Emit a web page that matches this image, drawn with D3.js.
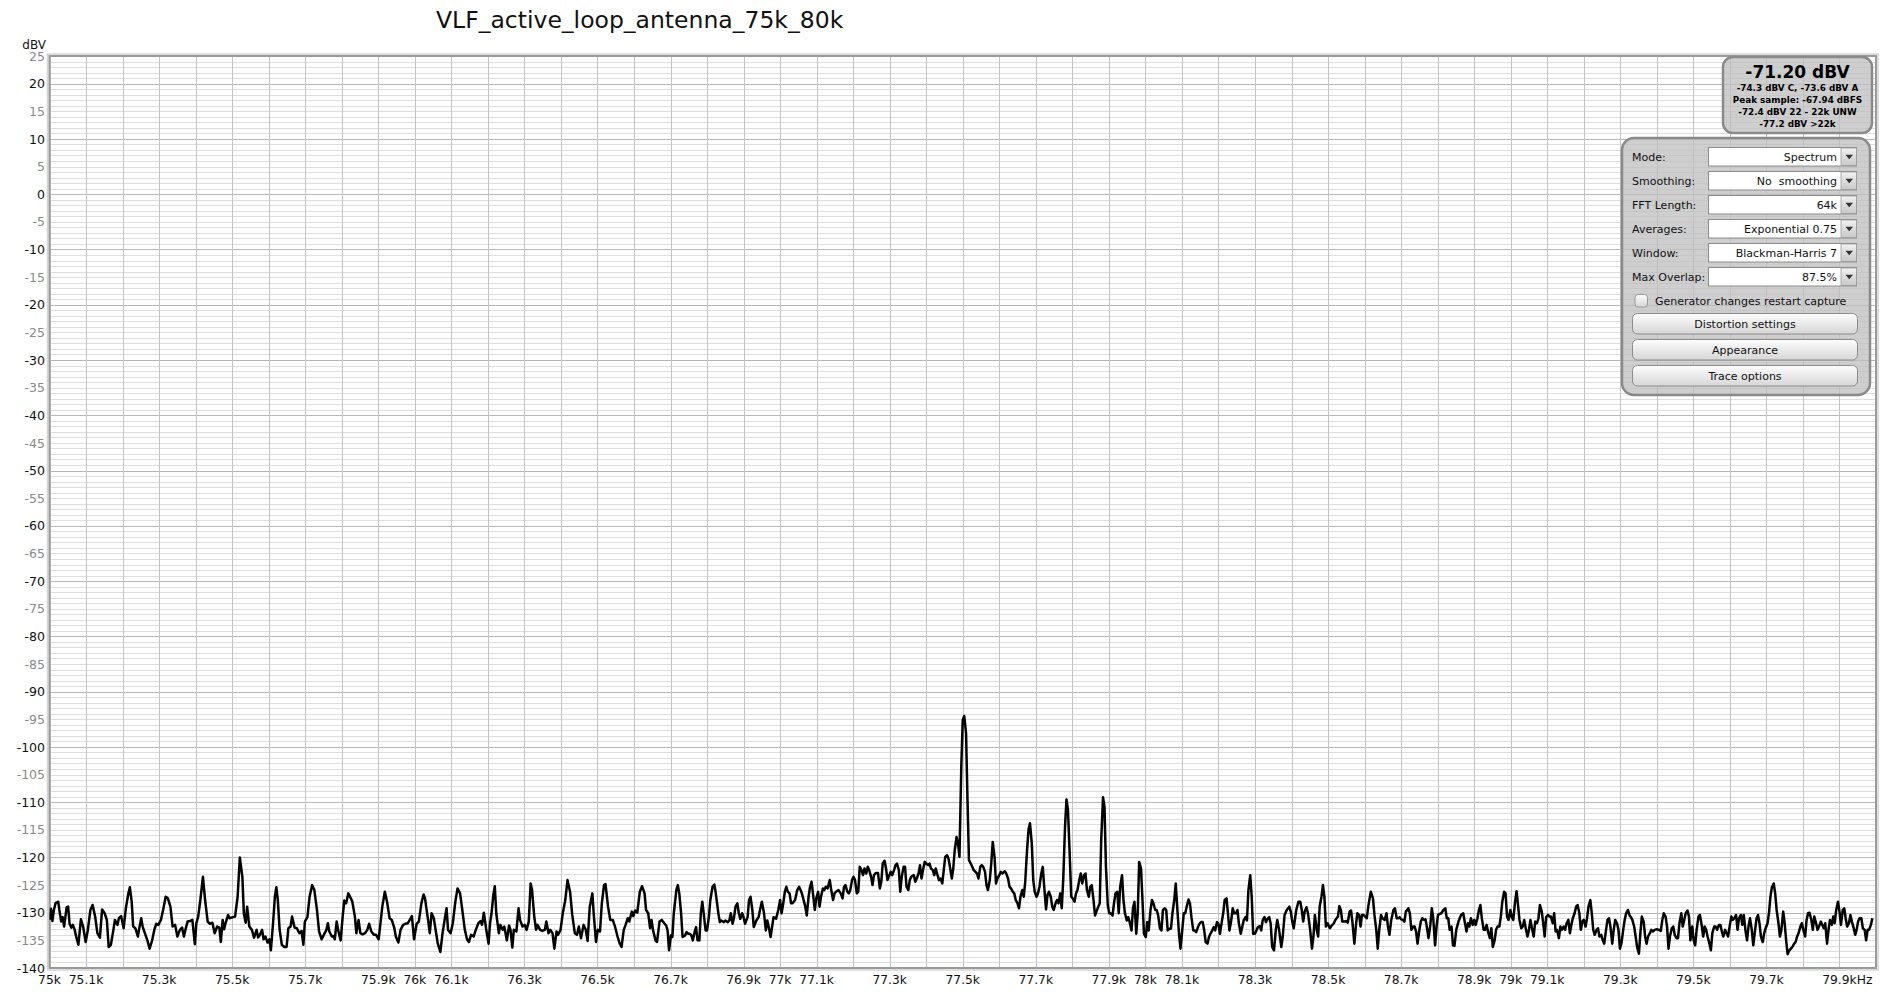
<!DOCTYPE html>
<html><head><meta charset="utf-8">
<script src="https://cdn.jsdelivr.net/npm/d3@7"></script>
<style>
html,body{margin:0;padding:0;background:#fff;overflow:hidden;}
svg{display:block;font-family:"DejaVu Sans",sans-serif;}
</style></head><body>
<svg id="chart" width="1900" height="992"></svg>
<script>
// ---------------- data ----------------
const chartTitle = "VLF_active_loop_antenna_75k_80k";
const yUnit = "dBV";
const yTicks = [25,20,15,10,5,0,-5,-10,-15,-20,-25,-30,-35,-40,-45,-50,-55,-60,-65,-70,-75,-80,-85,-90,-95,-100,-105,-110,-115,-120,-125,-130,-135,-140];
const xTickHz = [75000,75100,75300,75500,75700,75900,76000,76100,76300,76500,76700,76900,77000,77100,77300,77500,77700,77900,78000,78100,78300,78500,78700,78900,79000,79100,79300,79500,79700,79900];
const xTickLabels = ["75k","75.1k","75.3k","75.5k","75.7k","75.9k","76k","76.1k","76.3k","76.5k","76.7k","76.9k","77k","77.1k","77.3k","77.5k","77.7k","77.9k","78k","78.1k","78.3k","78.5k","78.7k","78.9k","79k","79.1k","79.3k","79.5k","79.7k","79.9k"];
const xUnit = "Hz";
const readoutMain = "-71.20 dBV";
const readoutLines = ["-74.3 dBV C, -73.6 dBV A","Peak sample: -67.94 dBFS","-72.4 dBV 22 - 22k UNW","-77.2 dBV >22k"];
const settingLabels = ["Mode:","Smoothing:","FFT Length:","Averages:","Window:","Max Overlap:"];
const settingValues = ["Spectrum","No  smoothing","64k","Exponential 0.75","Blackman-Harris 7","87.5%"];
const checkboxLabel = "Generator changes restart capture";
const buttonLabels = ["Distortion settings","Appearance","Trace options"];

// spectrum trace: [frequency Hz, level dBV]
const spectrum = [
[75000,-131.3],[75004,-129.3],[75008,-131.5],[75012,-129.5],[75017,-128.2],[75024,-128.0],[75027,-129.5],[75032,-131.6],[75036,-130.8],[75040,-132.5],
[75047,-129.0],[75051,-128.9],[75055,-132.0],[75060,-132.7],[75064,-132.2],[75069,-133.1],[75073,-134.3],[75079,-135.8],[75086,-131.2],[75092,-132.5],
[75099,-135.3],[75105,-133.1],[75112,-129.5],[75118,-128.6],[75125,-130.7],[75131,-133.7],[75138,-134.5],[75144,-129.4],[75151,-130.1],[75157,-131.3],
[75162,-136.2],[75168,-135.8],[75175,-133.1],[75179,-131.3],[75186,-132.2],[75190,-131.0],[75196,-130.6],[75203,-132.8],[75209,-129.2],[75216,-126.5],
[75220,-125.4],[75225,-128.0],[75229,-132.5],[75235,-132.8],[75242,-134.3],[75246,-132.7],[75251,-131.0],[75255,-132.5],[75261,-133.7],[75268,-135.0],
[75274,-136.5],[75281,-135.0],[75287,-133.1],[75292,-132.0],[75298,-132.2],[75305,-131.3],[75311,-129.5],[75318,-127.1],[75324,-127.4],[75331,-128.9],
[75337,-132.5],[75344,-132.2],[75350,-134.3],[75357,-133.1],[75363,-132.7],[75368,-134.3],[75372,-133.1],[75378,-131.6],[75385,-131.5],[75391,-131.3],
[75398,-135.7],[75402,-131.9],[75407,-130.7],[75413,-127.7],[75420,-123.5],[75426,-127.7],[75433,-131.6],[75439,-132.0],[75446,-131.8],[75452,-133.7],
[75459,-132.5],[75465,-132.7],[75469,-135.3],[75474,-131.3],[75478,-133.0],[75482,-131.9],[75489,-130.4],[75493,-131.0],[75502,-130.8],[75508,-130.7],
[75515,-127.1],[75521,-120.0],[75528,-123.5],[75532,-130.1],[75537,-131.8],[75541,-128.9],[75547,-132.5],[75554,-133.1],[75560,-134.5],[75567,-133.1],
[75571,-134.5],[75576,-134.0],[75582,-133.1],[75586,-134.8],[75591,-134.3],[75597,-135.4],[75602,-134.8],[75606,-136.8],[75612,-131.9],[75617,-127.1],
[75621,-125.4],[75625,-127.7],[75630,-133.1],[75636,-135.8],[75643,-136.2],[75649,-136.2],[75654,-132.8],[75660,-132.5],[75664,-130.7],[75671,-132.7],
[75677,-132.8],[75684,-133.7],[75690,-133.3],[75695,-135.8],[75699,-131.6],[75706,-130.8],[75712,-127.1],[75719,-125.0],[75725,-125.9],[75732,-129.4],
[75738,-133.4],[75745,-134.8],[75751,-134.0],[75758,-133.1],[75762,-131.9],[75766,-133.4],[75773,-134.3],[75777,-134.2],[75781,-134.8],[75786,-131.6],
[75790,-133.1],[75797,-135.0],[75803,-130.4],[75807,-127.8],[75812,-128.3],[75818,-126.5],[75825,-127.4],[75829,-128.0],[75836,-130.7],[75840,-133.7],
[75846,-131.3],[75851,-133.7],[75857,-133.9],[75864,-133.7],[75870,-133.1],[75875,-132.0],[75881,-133.4],[75888,-134.0],[75894,-134.0],[75901,-134.8],
[75905,-132.5],[75911,-128.9],[75918,-126.2],[75924,-128.0],[75931,-131.0],[75937,-131.3],[75944,-132.8],[75948,-134.3],[75955,-135.4],[75961,-133.1],
[75968,-132.2],[75974,-132.0],[75981,-131.9],[75987,-131.2],[75992,-130.6],[75998,-134.8],[76005,-132.0],[76011,-131.6],[76018,-128.3],[76024,-126.7],
[76028,-127.4],[76033,-129.8],[76037,-131.6],[76041,-133.7],[76046,-130.1],[76052,-131.0],[76057,-133.1],[76063,-135.6],[76070,-137.1],[76076,-133.7],
[76083,-130.7],[76087,-129.2],[76091,-133.1],[76098,-133.7],[76104,-131.9],[76111,-128.0],[76117,-125.6],[76124,-126.5],[76130,-129.5],[76137,-133.1],
[76143,-134.8],[76148,-135.3],[76154,-134.0],[76161,-134.3],[76167,-133.1],[76174,-131.9],[76180,-131.5],[76184,-132.2],[76189,-130.0],[76195,-132.8],
[76202,-135.6],[76206,-131.9],[76210,-130.1],[76215,-126.8],[76219,-125.2],[76223,-130.1],[76230,-133.7],[76234,-132.2],[76241,-133.1],[76245,-132.5],
[76252,-135.0],[76258,-132.3],[76262,-133.1],[76267,-136.3],[76271,-133.1],[76278,-133.4],[76284,-129.2],[76288,-131.3],[76295,-132.5],[76301,-132.2],
[76306,-133.1],[76312,-131.6],[76317,-124.7],[76321,-125.9],[76327,-130.7],[76332,-133.1],[76336,-132.2],[76343,-133.1],[76349,-133.3],[76356,-133.1],
[76360,-131.6],[76366,-133.7],[76371,-133.1],[76377,-133.7],[76382,-136.5],[76388,-133.4],[76392,-134.0],[76399,-133.1],[76405,-130.1],[76412,-127.7],
[76418,-124.1],[76425,-126.2],[76431,-130.4],[76438,-133.7],[76444,-134.0],[76449,-132.5],[76455,-134.6],[76462,-132.2],[76468,-133.1],[76473,-135.1],
[76479,-128.9],[76486,-126.5],[76490,-130.4],[76496,-135.3],[76501,-133.1],[76507,-133.4],[76512,-128.3],[76518,-125.0],[76522,-124.8],[76529,-128.9],
[76535,-131.3],[76542,-131.3],[76548,-132.5],[76555,-134.3],[76561,-135.6],[76566,-136.2],[76572,-133.1],[76577,-132.2],[76583,-131.0],[76587,-131.6],
[76594,-129.8],[76598,-130.6],[76603,-129.6],[76609,-130.0],[76616,-126.2],[76622,-125.2],[76629,-126.5],[76633,-129.5],[76639,-130.1],[76644,-132.8],
[76648,-131.3],[76652,-133.1],[76659,-135.0],[76663,-135.3],[76670,-131.6],[76676,-131.3],[76683,-131.9],
[76688,-132.3],[76692,-133.2],[76696,-136.8],[76701,-134.1],[76705,-134.4],[76709,-130.1],[76716,-125.9],[76720,-125.0],[76724,-126.5],[76729,-130.1],
[76733,-134.4],[76740,-134.1],[76744,-133.5],[76748,-133.8],[76753,-133.8],[76757,-134.1],[76761,-135.0],[76766,-133.5],[76770,-132.6],[76774,-135.0],
[76779,-135.0],[76783,-130.1],[76787,-128.0],[76792,-130.8],[76796,-133.2],[76800,-133.2],[76805,-130.8],[76809,-127.7],[76815,-125.3],[76820,-124.9],
[76824,-126.5],[76831,-130.1],[76835,-131.7],[76839,-131.4],[76846,-131.7],[76850,-131.4],[76857,-131.7],[76861,-131.4],[76865,-130.1],[76870,-132.0],
[76874,-130.8],[76878,-128.9],[76883,-128.3],[76887,-130.1],[76891,-131.1],[76896,-130.1],[76900,-130.8],[76904,-132.0],[76911,-130.8],[76915,-127.7],
[76919,-127.1],[76924,-129.5],[76928,-132.6],[76935,-131.4],[76941,-130.8],[76945,-129.5],[76950,-128.0],[76956,-130.1],[76961,-133.2],[76965,-131.4],
[76969,-132.6],[76974,-134.4],[76978,-132.6],[76982,-130.8],[76989,-131.1],[76995,-129.5],[77000,-127.7],[77004,-130.1],[77008,-128.6],[77013,-126.2],
[77017,-125.3],[77021,-126.2],[77026,-126.5],[77030,-128.3],[77034,-128.3],[77041,-127.7],[77047,-125.9],[77052,-125.3],[77058,-126.2],[77062,-127.1],
[77069,-128.9],[77073,-130.5],[77078,-127.1],[77082,-125.3],[77086,-124.4],[77091,-127.1],[77095,-129.5],[77099,-127.4],[77104,-126.2],[77108,-128.9],
[77112,-127.1],[77117,-125.6],[77121,-125.9],[77125,-125.3],[77130,-125.6],[77136,-124.1],[77140,-125.9],[77145,-127.7],[77149,-126.5],[77153,-126.2],
[77160,-125.9],[77166,-126.5],[77171,-127.4],[77175,-125.3],[77179,-125.0],[77184,-126.2],[77188,-126.5],[77192,-125.9],[77197,-124.1],[77201,-123.5],
[77205,-124.1],[77210,-126.5],[77214,-126.2],[77218,-121.7],[77223,-122.3],[77227,-123.2],[77231,-122.0],[77236,-122.9],[77240,-121.7],[77244,-122.3],
[77249,-123.5],[77253,-125.0],[77257,-123.2],[77262,-122.8],[77268,-122.8],[77273,-125.6],[77277,-124.4],[77281,-121.1],[77286,-120.6],[77290,-122.0],
[77294,-124.1],[77299,-123.2],[77303,-122.6],[77307,-123.2],[77312,-122.3],[77316,-121.4],[77320,-121.1],[77325,-122.3],[77329,-126.2],[77333,-123.5],
[77338,-121.7],[77342,-121.7],[77346,-125.3],[77351,-125.9],[77355,-124.1],[77359,-123.5],[77366,-123.2],[77370,-124.4],[77374,-123.8],[77379,-122.9],
[77383,-121.4],[77387,-123.8],[77392,-122.0],[77396,-120.8],[77400,-121.1],[77405,-121.4],[77409,-121.1],[77413,-122.0],[77418,-122.3],[77422,-123.2],
[77426,-122.0],[77431,-123.2],[77435,-124.1],[77439,-123.8],[77444,-124.7],[77448,-122.3],[77452,-119.9],[77457,-119.6],[77461,-120.2],[77465,-121.7],
[77470,-123.8],[77474,-122.0],[77478,-118.7],[77483,-116.3],[77487,-117.5],[77491,-119.9],[77496,-103.6],[77500,-95.1],[77504,-94.4],[77509,-97.5],
[77513,-109.6],[77517,-120.5],[77522,-121.1],[77526,-121.7],[77530,-122.3],[77535,-122.6],[77539,-122.9],[77543,-123.8],[77548,-121.7],[77552,-121.4],
[77556,-121.7],[77561,-122.6],[77565,-125.0],[77569,-125.9],[77574,-124.1],[77578,-121.1],[77582,-117.2],[77587,-119.9],[77591,-124.7],[77595,-123.8],
[77600,-123.2],[77604,-122.6],[77608,-122.9],[77615,-122.5],[77619,-122.9],[77624,-123.8],[77628,-125.3],[77632,-125.6],[77637,-126.2],[77641,-126.5],
[77645,-127.7],[77650,-128.3],[77654,-129.2],[77658,-127.1],[77663,-125.9],[77667,-127.1],[77671,-124.4],[77676,-118.7],[77680,-115.0],[77684,-113.8],
[77689,-117.5],[77693,-124.1],[77697,-126.2],[77702,-127.1],[77706,-126.5],[77710,-125.3],[77715,-122.9],[77719,-121.7],[77723,-125.3],[77728,-129.4],
[77732,-126.8],[77736,-126.2],[77741,-127.1],[77745,-128.9],[77749,-129.5],[77754,-128.3],[77758,-127.7],[77762,-128.3],[77767,-126.5],[77771,-129.2],
[77775,-124.1],[77780,-114.4],[77784,-109.5],[77788,-111.4],[77793,-119.9],[77797,-127.1],[77801,-127.4],[77806,-128.0],[77810,-126.5],[77814,-125.9],
[77819,-124.1],[77823,-122.9],[77827,-124.7],[77832,-123.2],[77836,-122.9],[77840,-125.9],[77845,-127.1],[77849,-125.3],[77853,-125.0],[77858,-127.7],
[77862,-130.5],[77866,-129.8],[77871,-128.9],[77875,-128.3],[77879,-116.9],[77884,-109.1],[77888,-110.8],[77892,-121.7],[77897,-128.6],[77901,-130.1],
[77905,-130.1],[77910,-130.5],[77914,-128.3],[77918,-126.5],[77923,-126.2],[77927,-130.1],[77931,-125.3],[77936,-123.2],[77940,-127.7],[77944,-130.1],
[77949,-131.4],[77953,-130.8],[77957,-131.7],[77962,-133.2],[77966,-129.2],[77970,-128.0],[77975,-133.8],[77979,-130.1],[77983,-120.8],[77988,-122.0],
[77992,-127.7],[77996,-133.8],[78001,-134.4],[78005,-131.7],[78009,-133.2],[78014,-129.5],[78018,-127.7],[78022,-128.3],[78027,-129.5],[78031,-129.5],
[78035,-130.5],[78040,-132.9],[78044,-133.2],[78048,-129.5],[78053,-129.2],[78057,-129.5],[78061,-133.2],[78066,-132.9],[78070,-132.9],[78074,-130.1],
[78079,-127.7],[78083,-124.7],[78087,-128.9],[78092,-133.8],[78096,-136.5],[78100,-133.8],[78105,-130.1],[78109,-130.1],[78113,-128.9],[78118,-127.6],
[78122,-128.3],[78126,-130.8],[78131,-133.2],[78135,-133.2],[78139,-133.5],[78144,-132.6],[78148,-132.0],[78152,-131.7],[78157,-131.7],[78161,-133.2],
[78165,-135.3],[78170,-135.6],[78174,-134.4],[78178,-133.8],[78183,-133.2],[78187,-132.6],[78191,-133.2],[78196,-131.7],[78200,-132.0],[78204,-133.8],
[78209,-131.7],[78213,-130.1],[78217,-127.7],[78222,-127.4],[78226,-130.1],[78230,-133.2],[78235,-131.4],[78239,-129.2],[78243,-130.1],[78248,-130.1],
[78252,-129.5],[78256,-132.0],[78261,-133.8],[78265,-132.6],[78269,-131.4],[78274,-130.8],[78278,-131.4],[78282,-125.9],[78287,-123.2],[78291,-127.1],
[78295,-133.8],[78300,-133.8],[78304,-133.2],[78308,-132.6],[78313,-132.4],[78317,-133.2],[78321,-131.4],[78326,-130.8],[78330,-131.7],[78334,-131.1],
[78339,-130.8],[78343,-132.0],[78347,-136.2],[78352,-136.8],
[78357,-133.1],[78361,-131.3],[78366,-133.1],[78372,-136.2],[78376,-134.3],[78381,-130.4],[78387,-129.5],[78394,-128.9],[78398,-129.8],[78402,-131.6],
[78406,-132.8],[78413,-129.5],[78419,-128.0],[78424,-128.0],[78428,-129.5],[78432,-131.6],[78436,-129.8],[78441,-129.0],[78445,-130.1],[78451,-133.1],
[78456,-136.5],[78460,-134.3],[78464,-130.4],[78469,-133.1],[78473,-134.3],[78477,-128.9],[78482,-127.1],[78486,-125.0],[78490,-127.1],[78494,-132.5],
[78499,-131.9],[78505,-132.8],[78509,-132.4],[78516,-131.9],[78520,-131.3],[78527,-130.7],[78531,-128.8],[78535,-129.5],[78539,-131.6],[78546,-131.6],
[78550,-131.5],[78554,-131.8],[78559,-129.8],[78563,-129.6],[78567,-131.9],[78572,-135.6],[78576,-132.5],[78580,-130.1],[78585,-130.4],[78589,-132.5],
[78593,-130.4],[78597,-130.4],[78602,-130.7],[78606,-131.0],[78610,-128.9],[78617,-126.2],[78623,-127.4],[78627,-130.4],[78632,-133.1],[78636,-136.5],
[78640,-133.1],[78645,-130.4],[78649,-131.0],[78655,-131.3],[78660,-130.1],[78664,-132.5],[78668,-134.0],[78673,-131.3],[78679,-129.5],[78683,-129.2],
[78688,-131.0],[78692,-131.0],[78696,-130.8],[78700,-131.2],[78705,-131.3],[78709,-131.6],[78713,-129.8],[78720,-129.2],[78724,-130.1],[78728,-133.1],
[78733,-132.5],[78737,-132.5],[78741,-133.4],[78745,-135.6],[78750,-133.1],[78754,-131.6],[78758,-131.0],[78763,-131.3],[78767,-131.2],[78771,-132.8],
[78775,-134.6],[78780,-132.2],[78784,-129.2],[78788,-131.0],[78793,-135.9],[78797,-132.5],[78801,-130.4],[78806,-130.2],[78810,-130.1],[78816,-129.5],
[78821,-129.2],[78825,-131.0],[78829,-131.0],[78833,-133.1],[78838,-132.5],[78842,-135.9],[78846,-136.0],[78851,-133.1],[78857,-131.6],[78864,-130.4],
[78870,-130.1],[78874,-131.6],[78879,-133.4],[78883,-131.9],[78887,-132.5],[78891,-131.0],[78896,-132.2],[78900,-131.3],[78904,-132.2],[78909,-131.0],
[78913,-129.5],[78917,-128.6],[78921,-131.0],[78926,-133.1],[78930,-133.1],[78934,-132.2],[78939,-133.7],[78943,-134.6],[78947,-132.8],[78951,-136.2],
[78956,-135.0],[78960,-133.1],[78964,-132.5],[78969,-132.5],[78973,-130.7],[78977,-128.0],[78982,-126.2],[78986,-126.5],[78990,-130.7],[78994,-131.3],
[78999,-129.5],[79003,-130.8],[79007,-131.3],[79012,-128.0],[79016,-126.1],[79020,-128.6],[79024,-131.3],[79029,-132.8],[79033,-132.5],[79037,-131.3],
[79042,-133.1],[79046,-134.3],[79050,-133.1],[79054,-131.3],[79059,-133.1],[79063,-134.3],[79067,-131.6],[79072,-131.9],[79076,-131.0],[79080,-128.6],
[79085,-129.8],[79089,-131.9],[79093,-134.3],[79097,-130.8],[79102,-130.4],[79106,-130.7],[79110,-130.7],[79115,-131.9],[79119,-130.1],[79123,-133.4],
[79127,-133.1],[79132,-134.6],[79136,-132.5],[79140,-133.1],[79145,-132.5],[79149,-133.1],[79153,-131.9],[79158,-131.3],[79162,-133.7],[79166,-132.2],
[79170,-131.0],[79175,-130.1],[79179,-128.9],[79183,-128.6],[79188,-130.1],[79192,-133.1],[79196,-131.6],[79200,-131.3],[79205,-132.5],[79209,-131.0],
[79213,-128.9],[79218,-127.7],[79222,-130.1],[79226,-133.1],[79230,-134.0],[79235,-133.1],[79239,-132.8],[79243,-134.3],[79248,-134.0],[79252,-135.0],
[79256,-135.6],[79261,-133.1],[79265,-131.3],[79269,-131.0],[79273,-132.5],[79278,-135.6],[79282,-133.1],[79286,-131.3],[79291,-131.9],[79295,-133.1],
[79299,-136.5],[79303,-135.6],[79308,-133.1],[79312,-131.3],[79316,-130.1],[79321,-129.5],[79325,-130.4],[79329,-130.8],[79333,-131.3],[79338,-132.5],
[79342,-134.3],[79346,-136.2],[79351,-137.4],[79355,-133.7],[79359,-130.7],[79364,-131.6],[79368,-134.3],[79372,-135.6],[79376,-134.3],[79381,-133.7],
[79385,-133.1],[79389,-133.4],[79394,-133.1],[79400,-133.0],[79406,-133.1],[79411,-133.3],[79415,-131.3],[79419,-130.1],[79424,-130.7],[79428,-132.5],
[79432,-136.5],[79436,-134.3],[79441,-132.8],[79445,-132.5],[79449,-134.0],[79454,-134.6],[79458,-134.6],[79462,-131.9],[79467,-130.1],[79471,-132.5],
[79475,-131.3],[79479,-130.1],[79484,-129.6],[79488,-130.7],[79492,-135.0],[79497,-132.5],[79501,-135.0],[79505,-135.9],[79509,-133.1],[79514,-130.7],
[79518,-130.4],[79522,-131.9],[79527,-134.3],[79531,-132.5],[79535,-133.1],[79539,-134.3],[79544,-135.6],[79548,-136.8],[79552,-133.7],[79557,-132.5],
[79561,-132.5],[79565,-133.1],[79570,-132.2],[79574,-132.2],[79578,-133.4],[79582,-134.3],[79587,-133.1],[79591,-133.7],[79595,-134.3],[79600,-132.2],
[79604,-130.7],[79608,-131.3],[79612,-131.0],[79617,-130.4],[79621,-133.1],[79625,-131.0],[79630,-130.4],[79634,-132.2],[79638,-130.4],[79643,-133.4],
[79647,-135.0],[79651,-132.5],[79655,-131.0],[79660,-133.1],[79664,-135.9],[79668,-133.7],[79673,-131.0],[79677,-130.4],[79681,-131.9],[79685,-134.3],
[79690,-135.3],[79694,-133.7],[79698,-132.8],[79703,-131.9],[79707,-130.1],[79711,-127.1],[79715,-125.4],[79720,-124.7],[79724,-126.5],[79728,-129.5],
[79733,-131.9],[79737,-134.3],[79741,-133.1],[79746,-129.8],[79750,-131.9],[79754,-135.0],[79758,-137.5],[79763,-136.8],[79767,-136.5],[79771,-136.2],
[79776,-135.6],[79780,-135.3],[79784,-134.3],[79788,-133.7],[79793,-132.5],[79797,-131.9],[79801,-133.1],[79806,-134.3],[79810,-131.3],[79814,-130.1],
[79818,-130.0],[79823,-131.3],[79827,-133.1],[79831,-130.7],[79836,-131.9],[79840,-133.1],[79844,-132.5],[79849,-131.6],[79853,-132.2],[79857,-132.8],
[79861,-131.9],[79866,-135.6],[79870,-133.1],[79874,-131.3],[79879,-132.2],[79883,-130.7],[79887,-131.9],[79891,-129.5],[79896,-128.0],[79900,-129.8],
[79904,-132.2],[79909,-129.5],[79913,-129.2],[79917,-131.0],[79921,-132.5],[79926,-131.9],[79930,-130.4],[79934,-131.6],[79939,-132.8],[79943,-134.0],
[79947,-133.1],[79951,-131.6],[79955,-131.0],[79960,-131.0],[79964,-132.8],[79969,-133.1],[79973,-135.0],[79977,-133.1],[79981,-133.1],[79986,-132.2],
[79990,-131.0]
];

// ---------------- drawing ----------------
const plot = {left: 49.5, right: 1876, top: 56, bottom: 968};
const svg = d3.select("#chart");
const x = d3.scaleLinear().domain([75000, 80000]).range([plot.left, plot.right]);
const y = d3.scaleLinear().domain([-140, 25]).range([plot.bottom, plot.top]);

const defs = svg.append("defs");
defs.append("clipPath").attr("id","plotClip").append("rect")
  .attr("x",plot.left).attr("y",plot.top).attr("width",plot.right-plot.left).attr("height",plot.bottom-plot.top);
const bg = defs.append("linearGradient").attr("id","btnGrad").attr("x1",0).attr("y1",0).attr("x2",0).attr("y2",1);
bg.append("stop").attr("offset","0%").attr("stop-color","#fdfdfd");
bg.append("stop").attr("offset","100%").attr("stop-color","#d6d6d6");
const ag = defs.append("linearGradient").attr("id","arrGrad").attr("x1",0).attr("y1",0).attr("x2",0).attr("y2",1);
ag.append("stop").attr("offset","0%").attr("stop-color","#f2f2f2");
ag.append("stop").attr("offset","100%").attr("stop-color","#c8c8c8");

// title
svg.append("text").attr("x",436).attr("y",28).attr("font-size",23.5).attr("fill","#111").text(chartTitle);

// grid
const grid = svg.append("g");
grid.selectAll("line.h").data(d3.range(-140, 26, 1)).enter().append("line")
  .attr("x1",plot.left).attr("x2",plot.right)
  .attr("y1",d=>Math.round(y(d))+0.5).attr("y2",d=>Math.round(y(d))+0.5)
  .attr("stroke",d=> d%10===0 ? "#b8b8b8" : "#dedede").attr("stroke-width",1);
grid.selectAll("line.v").data(d3.range(75000, 80001, 100)).enter().append("line")
  .attr("y1",plot.top).attr("y2",plot.bottom)
  .attr("x1",d=>Math.round(x(d))+0.5).attr("x2",d=>Math.round(x(d))+0.5)
  .attr("stroke","#c3c3c3").attr("stroke-width",1);

// frame
svg.append("rect").attr("x",plot.left-2).attr("y",plot.top-2).attr("width",plot.right-plot.left+4).attr("height",plot.bottom-plot.top+4)
  .attr("fill","none").attr("stroke","#d4d4d4").attr("stroke-width",1.5);
svg.append("rect").attr("x",plot.left).attr("y",plot.top).attr("width",plot.right-plot.left).attr("height",plot.bottom-plot.top)
  .attr("fill","none").attr("stroke","#9a9a9a").attr("stroke-width",2);

// y labels
svg.append("text").attr("x",46).attr("y",49).attr("text-anchor","end").attr("font-size",12).attr("fill","#111").text(yUnit);
svg.selectAll("text.yl").data(yTicks).enter().append("text")
  .attr("x",45).attr("y",d=>y(d)+4.6).attr("text-anchor","end").attr("font-size",12.5)
  .attr("fill",d=> d%10===0 ? "#111" : "#8a8a8a").text(d=>d);

// x labels
xTickHz.forEach((f,i)=>{
  const t = svg.append("text").attr("x",x(f)).attr("y",984).attr("text-anchor","middle")
    .attr("font-size",12.3).attr("fill","#111").text(xTickLabels[i]);
  if (i === xTickHz.length-1) {
    const L = t.node().getComputedTextLength();
    t.attr("text-anchor","start").attr("x",x(f)-L/2);
    t.append("tspan").text(xUnit);
  }
});

// trace
const line = d3.line().x(d=>x(d[0])).y(d=>y(d[1]));
svg.append("path").datum(spectrum).attr("clip-path","url(#plotClip)")
  .attr("d",line).attr("fill","none").attr("stroke","#000").attr("stroke-width",2.5)
  .attr("stroke-linejoin","round");

// readout box
svg.append("rect").attr("x",1723).attr("y",57).attr("width",149).attr("height",76).attr("rx",10)
  .attr("fill","#bdbdbd").attr("fill-opacity",0.75).attr("stroke","#8a8a8a").attr("stroke-width",2.5);
svg.append("text").attr("x",1797.5).attr("y",77.5).attr("text-anchor","middle").attr("font-size",17)
  .attr("font-weight","bold").attr("fill","#000").text(readoutMain);
readoutLines.forEach((s,i)=>{
  svg.append("text").attr("x",1797.5).attr("y",90.5+i*12).attr("text-anchor","middle").attr("font-size",8.8)
    .attr("font-weight","bold").attr("fill","#000").text(s);
});

// settings panel
svg.append("rect").attr("x",1622).attr("y",138).attr("width",248).attr("height",257).attr("rx",12)
  .attr("fill","#bdbdbd").attr("fill-opacity",0.75).attr("stroke","#8a8a8a").attr("stroke-width",2.5);
settingLabels.forEach((lab,i)=>{
  const top = 147.5 + i*24, h = 18.5, cy = top + h/2;
  svg.append("text").attr("x",1632).attr("y",cy+4).attr("font-size",11).attr("fill","#111").text(lab);
  svg.append("rect").attr("x",1708.5).attr("y",top).attr("width",148).attr("height",h)
    .attr("fill","#fff").attr("stroke","#8c8c8c").attr("stroke-width",1);
  svg.append("rect").attr("x",1841).attr("y",top+0.5).attr("width",15.5).attr("height",h-1)
    .attr("fill","url(#arrGrad)").attr("stroke","#9a9a9a").attr("stroke-width",0.8);
  svg.append("path").attr("d",`M${1845.5},${cy-2} L${1853},${cy-2} L${1849.25},${cy+2.5} Z`).attr("fill","#333");
  svg.append("text").attr("x",1837).attr("y",cy+4).attr("text-anchor","end").attr("font-size",11)
    .attr("fill","#111").style("white-space","pre").text(settingValues[i]);
});
svg.append("rect").attr("x",1635).attr("y",294.5).attr("width",12.5).attr("height",12.5).attr("rx",3)
  .attr("fill","url(#btnGrad)").attr("stroke","#999").attr("stroke-width",1);
svg.append("text").attr("x",1655).attr("y",304.5).attr("font-size",11).attr("fill","#111").text(checkboxLabel);
buttonLabels.forEach((lab,i)=>{
  const top = 313.5 + i*26;
  svg.append("rect").attr("x",1632.5).attr("y",top).attr("width",225).attr("height",20.5).attr("rx",5)
    .attr("fill","url(#btnGrad)").attr("stroke","#8c8c8c").attr("stroke-width",1);
  svg.append("text").attr("x",1745).attr("y",top+14.5).attr("text-anchor","middle").attr("font-size",11)
    .attr("fill","#111").text(lab);
});
</script>
</body></html>
